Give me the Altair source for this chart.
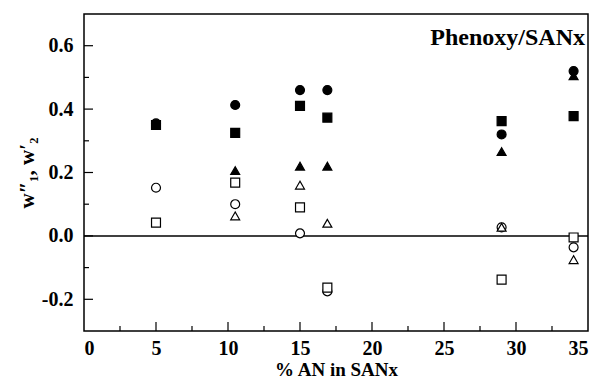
import altair as alt
import pandas as pd

# % AN in SANx
x_vals = [5, 10.5, 15, 16.9, 29, 34]

# series values (None = not visible)
filled_circle   = [0.355, 0.413, 0.460, 0.460, 0.320, 0.520]
filled_square   = [0.350, 0.325, 0.410, 0.373, 0.362, 0.378]
filled_triangle = [None, 0.206, 0.220, 0.220, 0.266, 0.505]
open_circle     = [0.152, 0.100, 0.008, -0.175, 0.027, -0.036]
open_square     = [0.042, 0.168, 0.090, -0.163, -0.138, -0.005]
open_triangle   = [None, 0.063, 0.160, 0.040, 0.027, -0.075]

series_names = ["filled circle", "filled square", "filled triangle",
                "open circle", "open square", "open triangle"]
series_vals = [filled_circle, filled_square, filled_triangle,
               open_circle, open_square, open_triangle]

y_major = [-0.2, 0.0, 0.2, 0.4, 0.6]
y_minor = [-0.1, 0.1, 0.3, 0.5]
x_major = [5, 10, 15, 20, 25, 30]
x_minor = [2.5, 7.5, 12.5, 17.5, 22.5, 27.5, 32.5]
x_labels = [0, 5, 10, 15, 20, 25, 30, 35]

rows = []
for name, vals in zip(series_names, series_vals):
    for xv, yv in zip(x_vals, vals):
        if yv is not None:
            rows.append({"x": xv, "y": yv, "series": name})
df = pd.DataFrame(rows)

W, H = 504, 317
FONT = "Liberation Serif"

xscale = alt.Scale(domain=[0, 35], nice=False, zero=False)
yscale = alt.Scale(domain=[-0.3, 0.7], nice=False, zero=False)

points = alt.Chart(df).mark_point(size=80, strokeWidth=1.2, opacity=1, filled=False).encode(
    x=alt.X("x:Q", scale=xscale,
            axis=alt.Axis(values=x_labels, format="d", ticks=False, domain=False, grid=False,
                          labelFont=FONT, labelFontSize=20, labelFontWeight="bold",
                          labelColor="black", labelPadding=7,
                          title="% AN in SANx", titleFont=FONT, titleFontSize=19,
                          titleFontWeight="bold", titleColor="black", titlePadding=2)),
    y=alt.Y("y:Q", scale=yscale,
            axis=alt.Axis(values=y_major, ticks=False, domain=False, grid=False,
                          labelExpr="replace(format(datum.value, '.1f'), '\u2212', '-')",
                          labelFont=FONT, labelFontSize=20, labelFontWeight="bold",
                          labelColor="black", labelPadding=11,
                          title="w\u2033\u2081, w\u2032\u2082", titleFont=FONT, titleFontSize=21,
                          titleFontWeight="bold", titleColor="black", titlePadding=4)),
    shape=alt.Shape("series:N", scale=alt.Scale(domain=series_names,
                    range=["circle", "square", "triangle-up", "circle", "square", "triangle-up"]),
                    legend=None),
    fill=alt.Fill("series:N", scale=alt.Scale(domain=series_names,
                  range=["black", "black", "black", "white", "white", "white"]), legend=None),
    stroke=alt.value("black"),
)

zero_line = alt.Chart(pd.DataFrame({"y": [0.0]})).mark_rule(color="black", strokeWidth=1.5).encode(
    y=alt.Y("y:Q", scale=yscale), x=alt.value(0), x2=alt.value(W))

ymaj = alt.Chart(pd.DataFrame({"y": y_major})).mark_rule(color="black", strokeWidth=1.2).encode(
    y=alt.Y("y:Q", scale=yscale), x=alt.value(0), x2=alt.value(9))
ymin = alt.Chart(pd.DataFrame({"y": y_minor})).mark_rule(color="black", strokeWidth=1.2).encode(
    y=alt.Y("y:Q", scale=yscale), x=alt.value(0), x2=alt.value(5))
xmaj = alt.Chart(pd.DataFrame({"x": x_major})).mark_rule(color="black", strokeWidth=1.2).encode(
    x=alt.X("x:Q", scale=xscale), y=alt.value(H), y2=alt.value(H - 9))
xmin = alt.Chart(pd.DataFrame({"x": x_minor})).mark_rule(color="black", strokeWidth=1.2).encode(
    x=alt.X("x:Q", scale=xscale), y=alt.value(H), y2=alt.value(H - 5))

label = alt.Chart(pd.DataFrame({"t": ["Phenoxy/SANx"]})).mark_text(
    align="right", baseline="alphabetic", font=FONT, fontSize=24, fontWeight="bold", color="black"
).encode(text="t:N", x=alt.value(501), y=alt.value(31))

chart = alt.layer(zero_line, ymaj, ymin, xmaj, xmin, points, label).properties(
    width=W, height=H,
    autosize=alt.AutoSizeParams(type="none"),
    padding={"left": 84, "top": 14, "right": 22, "bottom": 52},
    background="white",
).configure_view(stroke="black", strokeWidth=1.5)

chart.save("out.html", embed_options={"renderer": "svg", "actions": False})
